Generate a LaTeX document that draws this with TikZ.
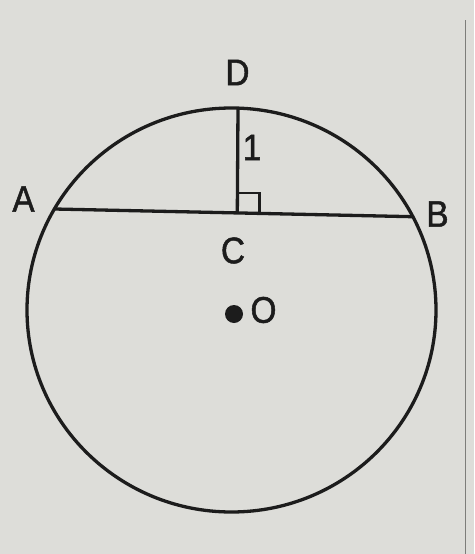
\documentclass[tikz,border=0pt]{standalone}
\usepackage{fontspec}
\setmainfont{Liberation Sans}[FakeStretch=0.9, FakeBold=1.3]
\usetikzlibrary{calc}
\definecolor{paper}{RGB}{221,221,217}
\definecolor{ink}{RGB}{28,28,28}
\definecolor{edge}{RGB}{125,125,122}
\tikzset{
  geo/.style={draw=ink, line width=3.3pt},
  lbl/.style={text=ink, font=\fontsize{37}{42}\selectfont, inner sep=0pt},
}
\begin{document}
\begin{tikzpicture}[x=1pt,y=-1pt]
  \fill[paper] (0,0) rectangle (474,554);
  \useasboundingbox (0,0) rectangle (474,554);
  \draw[edge, line width=1pt] (465,20) -- (465,554);
  % circle
  \coordinate (O) at (231.5,310);
  \draw[geo] (O) ellipse [x radius=204.5pt, y radius=202pt];
  \coordinate (A) at (54.4,209);
  \coordinate (B) at (412.9,216.7);
  \coordinate (C) at ($(A)!0.5102!(B)$);
  \coordinate (D) at (238,108);
  \draw[geo] (A) -- (B);
  \draw[geo] (C) -- (D);
  % right angle mark
  \draw[draw=ink, line width=2.8pt] ($(C)+(0,-20)$) -- ($(C)+(22,-20)$) -- ($(C)+(22,0.4)$);
  % centre dot
  \fill[ink] (234,314) circle (9pt) coordinate (Odot);
  % labels
  \node[lbl] (lA) at (23.5,199) {A};
  \node[lbl] (lB) at (437.5,214) {B};
  \node[lbl] (lC) at (233,250.5) {C};
  \node[lbl] (lD) at (237.5,72.5) {D};
  \node[lbl] (lO) at (263.5,310) {O};
  \node[lbl] (l1) at (252,147.5) {1};
\end{tikzpicture}
\end{document}
